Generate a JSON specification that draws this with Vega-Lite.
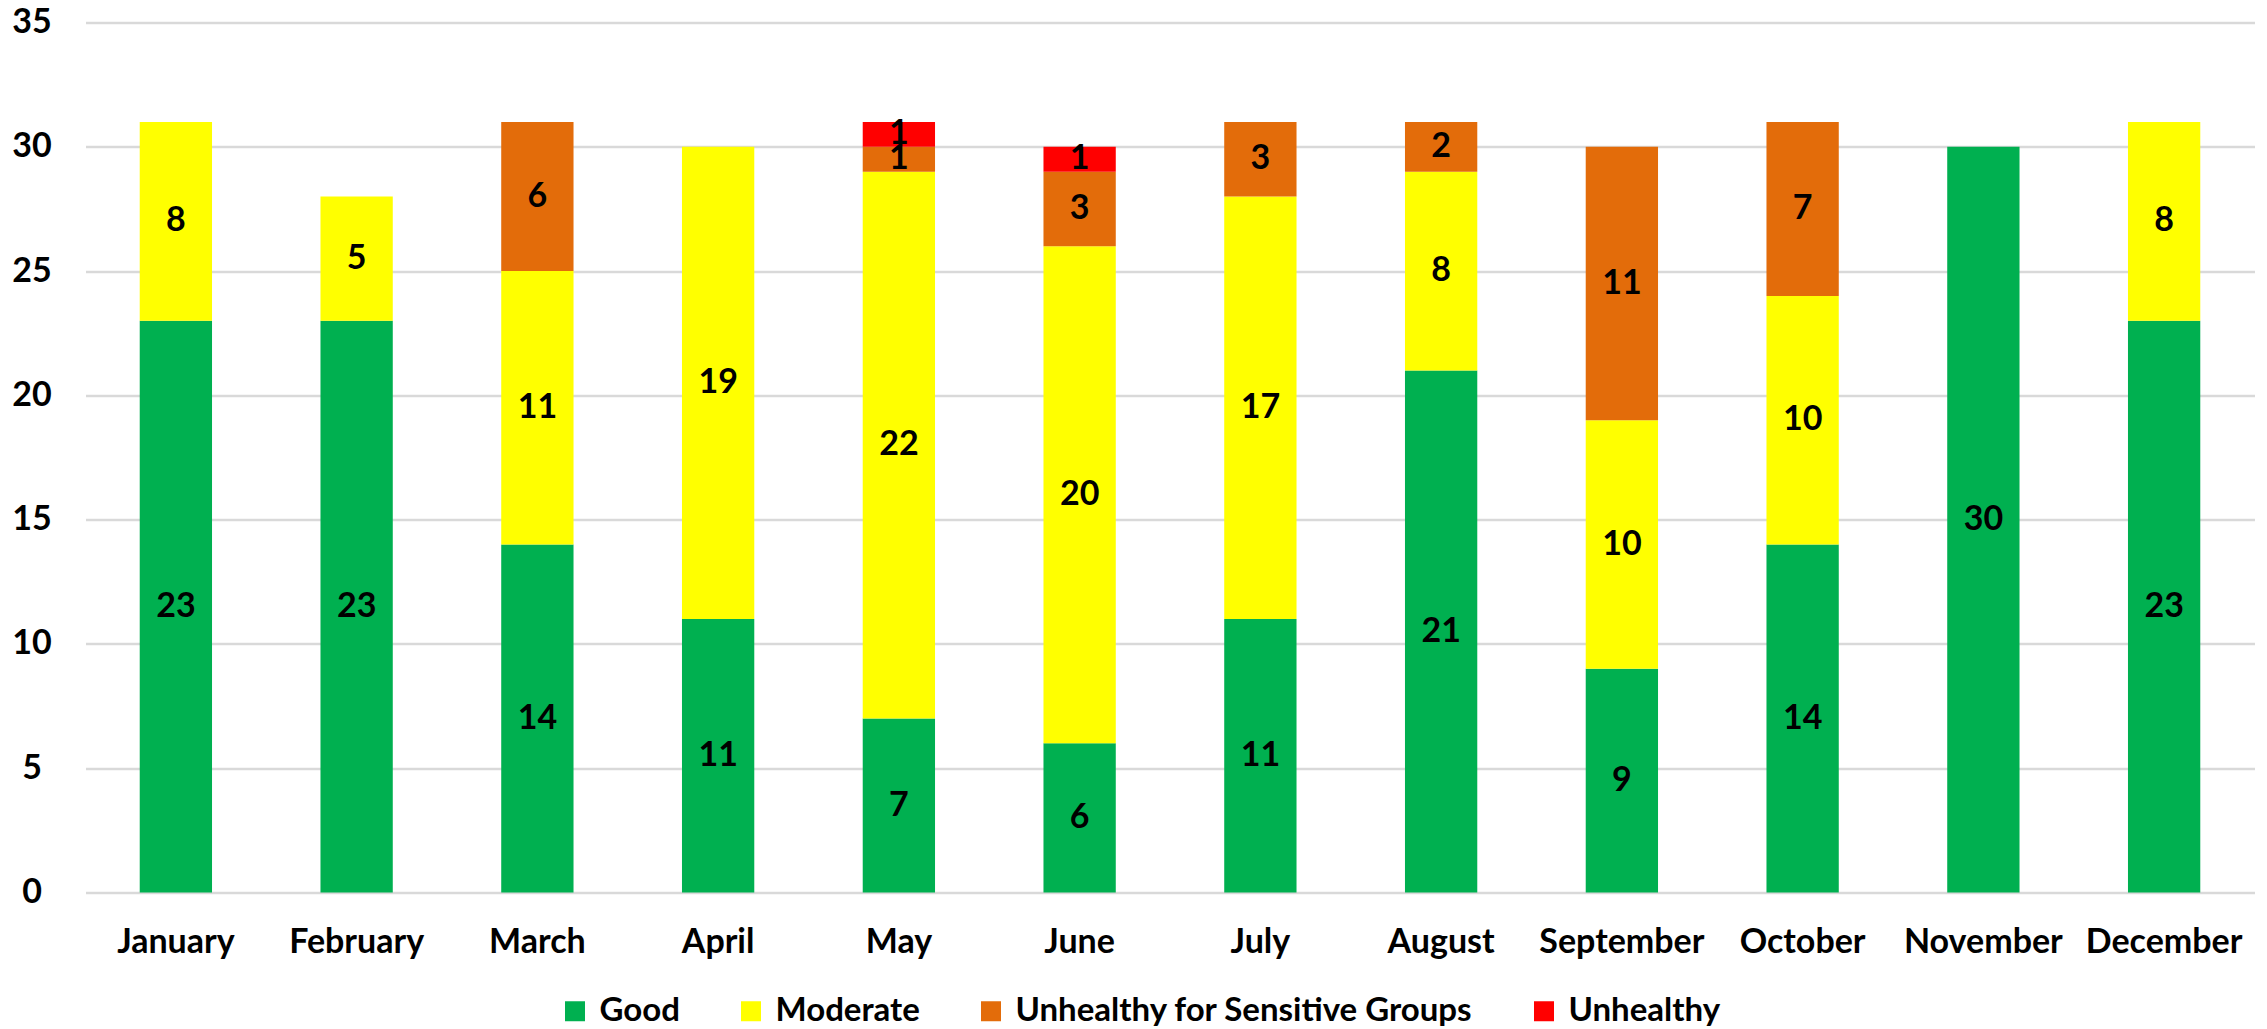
{
  "$schema": "https://vega.github.io/schema/vega-lite/v6.json",
  "width": 2169,
  "height": 870,
  "autosize": {"type": "none"},
  "padding": {"left": 85.5, "top": 22.5, "right": 12.5, "bottom": 136.5},
  "background": "white",
  "config": {
    "view": {"stroke": null},
    "font": "Lato",
    "axis": {"labelFont": "Lato", "labelFontWeight": "bold", "labelFontSize": 34, "labelColor": "#000000"},
    "legend": {"labelFont": "Lato", "labelFontWeight": "bold", "labelFontSize": 33, "labelColor": "#000000"}
  },
  "data": {
    "values": [
      {"month": "January", "category": "Good", "days": 23},
      {"month": "January", "category": "Moderate", "days": 8},
      {"month": "February", "category": "Good", "days": 23},
      {"month": "February", "category": "Moderate", "days": 5},
      {"month": "March", "category": "Good", "days": 14},
      {"month": "March", "category": "Moderate", "days": 11},
      {"month": "March", "category": "Unhealthy for Sensitive Groups", "days": 6},
      {"month": "April", "category": "Good", "days": 11},
      {"month": "April", "category": "Moderate", "days": 19},
      {"month": "May", "category": "Good", "days": 7},
      {"month": "May", "category": "Moderate", "days": 22},
      {"month": "May", "category": "Unhealthy for Sensitive Groups", "days": 1},
      {"month": "May", "category": "Unhealthy", "days": 1},
      {"month": "June", "category": "Good", "days": 6},
      {"month": "June", "category": "Moderate", "days": 20},
      {"month": "June", "category": "Unhealthy for Sensitive Groups", "days": 3},
      {"month": "June", "category": "Unhealthy", "days": 1},
      {"month": "July", "category": "Good", "days": 11},
      {"month": "July", "category": "Moderate", "days": 17},
      {"month": "July", "category": "Unhealthy for Sensitive Groups", "days": 3},
      {"month": "August", "category": "Good", "days": 21},
      {"month": "August", "category": "Moderate", "days": 8},
      {"month": "August", "category": "Unhealthy for Sensitive Groups", "days": 2},
      {"month": "September", "category": "Good", "days": 9},
      {"month": "September", "category": "Moderate", "days": 10},
      {"month": "September", "category": "Unhealthy for Sensitive Groups", "days": 11},
      {"month": "October", "category": "Good", "days": 14},
      {"month": "October", "category": "Moderate", "days": 10},
      {"month": "October", "category": "Unhealthy for Sensitive Groups", "days": 7},
      {"month": "November", "category": "Good", "days": 30},
      {"month": "December", "category": "Good", "days": 23},
      {"month": "December", "category": "Moderate", "days": 8}
    ]
  },
  "transform": [
    {"calculate": "indexof(['Good','Moderate','Unhealthy for Sensitive Groups','Unhealthy'], datum.category)", "as": "ord"},
    {"stack": "days", "groupby": ["month"], "sort": [{"field": "ord", "order": "ascending"}], "as": ["y0", "y1"]},
    {"calculate": "(datum.y0 + datum.y1) / 2", "as": "ymid"}
  ],
  "encoding": {
    "x": {
      "field": "month",
      "type": "nominal",
      "sort": ["January","February","March","April","May","June","July","August","September","October","November","December"],
      "scale": {"paddingInner": 0.6, "paddingOuter": 0.3},
      "axis": {"title": null, "labelAngle": 0, "domain": false, "ticks": false, "labelPadding": 33, "labelBaseline": "top"}
    }
  },
  "layer": [
    {
      "mark": {"type": "bar"},
      "encoding": {
        "y": {
          "field": "y0",
          "type": "quantitative",
          "scale": {"domain": [0, 35], "nice": false},
          "axis": {
            "title": null,
            "values": [0, 5, 10, 15, 20, 25, 30, 35],
            "domain": false,
            "ticks": false,
            "grid": true,
            "gridColor": "#D9D9D9",
            "gridWidth": 2.3,
            "labelAlign": "center",
            "labelPadding": 54,
            "labelBaseline": "middle"
          }
        },
        "y2": {"field": "y1"},
        "color": {
          "field": "category",
          "type": "nominal",
          "scale": {
            "domain": ["Good", "Moderate", "Unhealthy for Sensitive Groups", "Unhealthy"],
            "range": ["#00B050", "#FFFF00", "#E36C0A", "#FF0000"]
          },
          "legend": {
            "title": null,
            "orient": "none",
            "direction": "horizontal",
            "legendX": 473,
            "legendY": 972,
            "symbolType": "square",
            "symbolSize": 400,
            "symbolStrokeWidth": 0,
            "symbolOpacity": 1,
            "labelOffset": 8,
            "columnPadding": 54,
            "labelLimit": 1000
          }
        }
      }
    },
    {
      "mark": {"type": "text", "font": "Lato", "fontWeight": "bold", "fontSize": 34, "color": "#000000", "align": "center", "baseline": "middle"},
      "encoding": {
        "y": {"field": "ymid", "type": "quantitative"},
        "text": {"field": "days", "type": "quantitative"}
      }
    }
  ]
}
